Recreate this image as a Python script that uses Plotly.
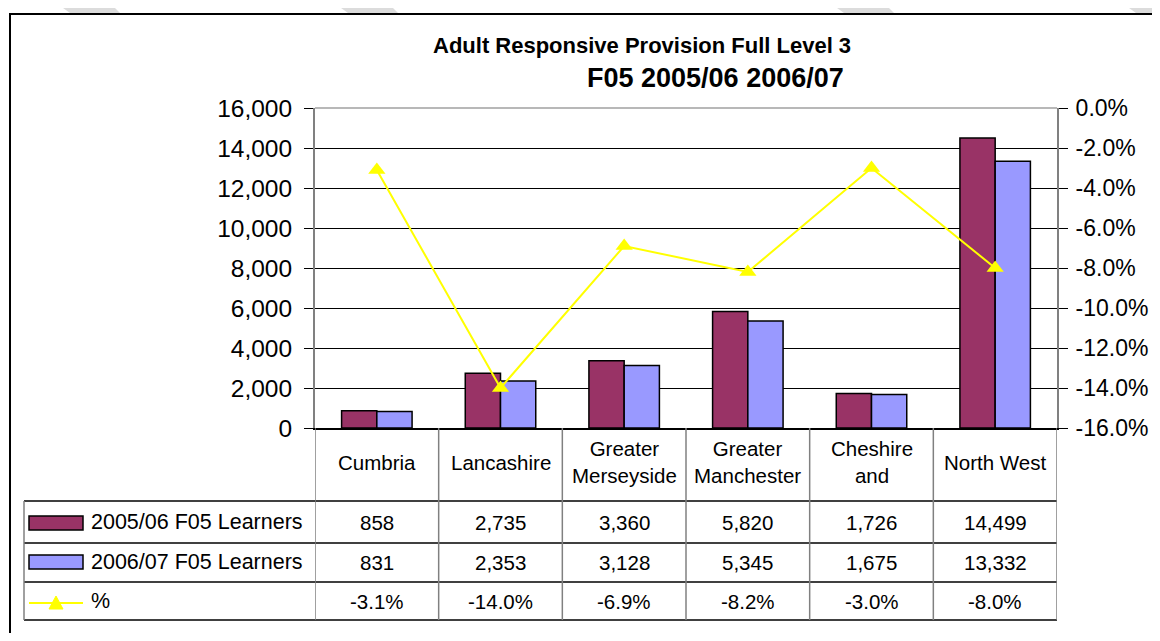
import plotly.graph_objects as go

# data
regions = ["Cumbria", "Lancashire", "Greater Merseyside", "Greater Manchester", "Cheshire and", "North West"]
region_labels = ["Cumbria", "Lancashire", "Greater<br>Merseyside", "Greater<br>Manchester", "Cheshire<br>and", "North West"]
learners_0506 = [858, 2735, 3360, 5820, 1726, 14499]
learners_0607 = [831, 2353, 3128, 5345, 1675, 13332]
pct_change = [-3.1, -14.0, -6.9, -8.2, -3.0, -8.0]

series_names = ["2005/06 F05 Learners", "2006/07 F05 Learners", "%"]
right_tick_vals = [0, -0.02, -0.04, -0.06, -0.08, -0.10, -0.12, -0.14, -0.16]
right_tick_text = ["0.0%", "-2.0%", "-4.0%", "-6.0%", "-8.0%", "-10.0%", "-12.0%", "-14.0%", "-16.0%"]

MAROON = "#993366"
LILAC = "#9999FF"
YELLOW = "#FFFF00"
FONT = "Liberation Sans, Arial, sans-serif"

# plot area in page pixels: x 315..1057, y 108..428
# (the page body has an 8px margin, so the figure is shrunk to avoid scrollbars)
def px(x):
    return (x - 315) / 742

def py(y):
    return (428 - y) / 320

fig = go.Figure()
fig.add_trace(go.Bar(x=regions, y=learners_0506, name=series_names[0],
                     marker=dict(color=MAROON, line=dict(color="black", width=1.5))))
fig.add_trace(go.Bar(x=regions, y=learners_0607, name=series_names[1],
                     marker=dict(color=LILAC, line=dict(color="black", width=1.5))))
fig.add_trace(go.Scatter(x=regions, y=[p / 100 for p in pct_change], name=series_names[2], yaxis="y2",
                         mode="lines+markers", line=dict(color=YELLOW, width=2),
                         marker=dict(symbol="triangle-up", size=15, color=YELLOW)))

shapes = []
annotations = []

# outer chart border
shapes.append(dict(type="rect", xref="paper", yref="paper", x0=px(10), y0=py(14), x1=px(1175), y1=py(660),
                   line=dict(color="black", width=2), layer="below"))

# light grey watermark stripes above the border
for x0 in [52, 330, 826, 1118]:
    path = "M {} {} L {} {} L {} {} L {} {} Z".format(px(x0), py(0), px(x0 + 55), py(0),
                                                      px(x0 + 68), py(13), px(x0 + 18), py(13))
    shapes.append(dict(type="path", xref="paper", yref="paper", path=path,
                       fillcolor="#dcdcdc", line=dict(width=0)))

# plot area top edge
shapes.append(dict(type="line", xref="paper", yref="paper", x0=0, x1=1, y0=1, y1=1,
                   line=dict(color="#a0a0a0", width=1.5)))

# data table grid
for y in [501, 543, 582, 620]:
    shapes.append(dict(type="line", xref="paper", yref="paper", x0=px(24), x1=1, y0=py(y), y1=py(y),
                       line=dict(color="black", width=1.5)))
shapes.append(dict(type="line", xref="paper", yref="paper", x0=px(24), x1=px(24), y0=py(501), y1=py(620),
                   line=dict(color="#808080", width=1.5)))
for i in range(len(regions) + 1):
    shapes.append(dict(type="line", xref="x", yref="paper", x0=i - 0.5, x1=i - 0.5, y0=0, y1=py(620),
                       line=dict(color="#808080", width=1.5)))

# legend keys in the table
shapes.append(dict(type="rect", xref="paper", yref="paper", x0=px(29), x1=px(83), y0=py(516), y1=py(530),
                   fillcolor=MAROON, line=dict(color="black", width=1.5)))
shapes.append(dict(type="rect", xref="paper", yref="paper", x0=px(29), x1=px(83), y0=py(555), y1=py(569),
                   fillcolor=LILAC, line=dict(color="black", width=1.5)))
shapes.append(dict(type="line", xref="paper", yref="paper", x0=px(29), x1=px(83), y0=py(603), y1=py(603),
                   line=dict(color=YELLOW, width=2)))
shapes.append(dict(type="path", xref="paper", yref="paper",
                   path="M {} {} L {} {} L {} {} Z".format(px(49), py(609), px(63), py(609), px(56), py(596)),
                   fillcolor=YELLOW, line=dict(color=YELLOW, width=1)))

row_y = [522, 562, 601]
for name, y in zip(series_names, row_y):
    annotations.append(dict(xref="paper", yref="paper", x=px(89), y=py(y), text=name, showarrow=False,
                            xanchor="left", yanchor="middle", font=dict(size=21.5)))

for i, lab in enumerate(region_labels):
    annotations.append(dict(xref="x", yref="paper", x=i, y=py(462), text=lab, showarrow=False,
                            xanchor="center", yanchor="middle", font=dict(size=20.5)))
    annotations.append(dict(xref="x", yref="paper", x=i, y=py(row_y[0]), text=f"{learners_0506[i]:,}",
                            showarrow=False, yanchor="middle", font=dict(size=20.5)))
    annotations.append(dict(xref="x", yref="paper", x=i, y=py(row_y[1]), text=f"{learners_0607[i]:,}",
                            showarrow=False, yanchor="middle", font=dict(size=20.5)))
    annotations.append(dict(xref="x", yref="paper", x=i, y=py(row_y[2]), text=f"{pct_change[i]:.1f}%",
                            showarrow=False, yanchor="middle", font=dict(size=20.5)))

# title, two lines
annotations.append(dict(xref="paper", yref="paper", x=px(642), y=py(46), text="<b>Adult Responsive Provision Full Level 3</b>",
                        showarrow=False, xanchor="center", yanchor="middle", font=dict(size=22)))
annotations.append(dict(xref="paper", yref="paper", x=px(715), y=py(78), text="<b>F05 2005/06 2006/07</b>",
                        showarrow=False, xanchor="center", yanchor="middle", font=dict(size=27)))

fig.update_layout(
    width=1152, height=625,
    margin=dict(l=307, r=103, t=100, b=205, autoexpand=False),
    paper_bgcolor="white", plot_bgcolor="white",
    font=dict(family=FONT, color="black", size=20),
    showlegend=False,
    barmode="group", bargap=0.43, bargroupgap=0,
    shapes=shapes, annotations=annotations,
    xaxis=dict(range=[-0.5, 5.5], showticklabels=False, ticks="", showgrid=False, automargin=False,
               showline=True, linecolor="black", linewidth=1.5, zeroline=False),
    yaxis=dict(range=[0, 16000], dtick=2000, tickformat=",", showgrid=True, gridcolor="black", gridwidth=1,
               showline=True, linecolor="#808080", linewidth=2, ticks="outside", ticklen=9, automargin=False,
               tickcolor="black", tickfont=dict(size=24.5), zeroline=False, ticklabelstandoff=7),
    yaxis2=dict(range=[-0.16, 0], overlaying="y", side="right", tickvals=right_tick_vals,
                ticktext=right_tick_text, showgrid=False, showline=True, linecolor="#808080", linewidth=2,
                ticks="outside", ticklen=9, tickcolor="black", tickfont=dict(size=23), zeroline=False,
                ticklabelstandoff=3, automargin=False),
)

fig.write_html("out.html")
